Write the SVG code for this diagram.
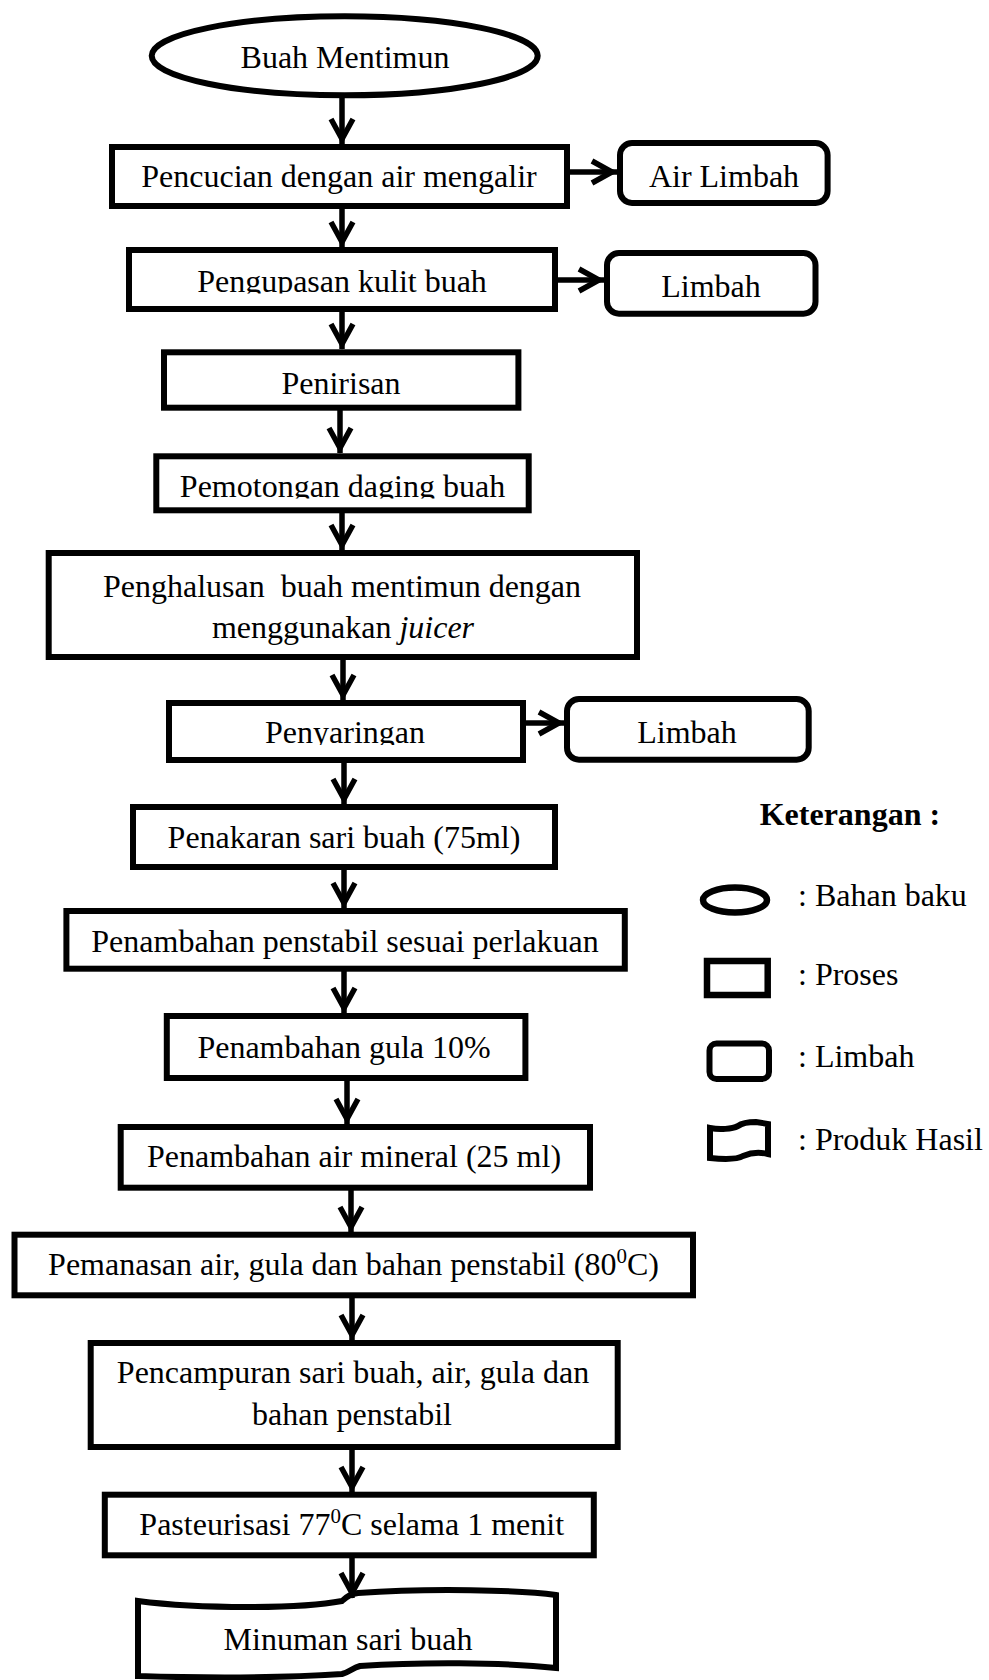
<svg xmlns="http://www.w3.org/2000/svg" width="989" height="1680" viewBox="0 0 989 1680">
<style>
.box{fill:#fff;stroke:#000;stroke-width:6}
.lb{fill:#fff;stroke:#000;stroke-width:6}
.t{font-family:"Liberation Serif","Times New Roman",serif;font-size:32px;fill:#000;text-anchor:middle}
.ls{text-anchor:start}
.b{font-weight:bold}
.c line{stroke:#000;stroke-width:5.5;fill:none}
.sup{font-size:21px}
</style>
<defs>
<marker id="arr" markerUnits="userSpaceOnUse" viewBox="-30 -16 32 32" markerWidth="32" markerHeight="32" refX="0" refY="0" orient="auto" overflow="visible">
<path d="M -25 -11 L -5 0 L -25 11" fill="none" stroke="#000" stroke-width="5.5" stroke-linejoin="miter"/>
</marker>
<clipPath id="cp1"><rect x="120" y="250" width="440" height="43.5"/></clipPath>
<clipPath id="cp2"><rect x="150" y="456" width="380" height="42.5"/></clipPath>
<clipPath id="cp3"><rect x="160" y="703" width="360" height="42"/></clipPath>
</defs>
<rect width="989" height="1680" fill="#fff"/>

<g id="n1"><ellipse class="box" cx="344.7" cy="55.8" rx="193" ry="39.5"/><text class="t" x="345" y="68">Buah Mentimun</text></g>
<g id="n2"><rect class="box" x="112" y="147" width="455" height="59"/><text class="t" x="339" y="187">Pencucian dengan air mengalir</text></g>
<g id="w1"><rect class="lb" x="620" y="143" width="207.6" height="60" rx="12"/><text class="t" x="724" y="187">Air Limbah</text></g>
<g id="n3"><rect class="box" x="129" y="250" width="426" height="59"/><text class="t" x="342" y="291.7" clip-path="url(#cp1)">Pengupasan kulit buah</text></g>
<g id="w2"><rect class="lb" x="607" y="253" width="208.5" height="60.7" rx="12"/><text class="t" x="711" y="296.7">Limbah</text></g>
<g id="n4"><rect class="box" x="164" y="352.3" width="354.4" height="55.4"/><text class="t" x="341" y="394">Penirisan</text></g>
<g id="n5"><rect class="box" x="156.3" y="456.3" width="372.4" height="54"/><text class="t" x="342.5" y="496.7" clip-path="url(#cp2)">Pemotongan daging buah</text></g>
<g id="n6"><rect class="box" x="48.7" y="553" width="588.3" height="104"/><text class="t" x="342" y="596.7" xml:space="preserve">Penghalusan  buah mentimun dengan</text><text class="t" x="343" y="638">menggunakan <tspan font-style="italic">juicer</tspan></text></g>
<g id="n7"><rect class="box" x="169" y="703" width="354" height="57"/><text class="t" x="345" y="743" clip-path="url(#cp3)">Penyaringan</text></g>
<g id="w3"><rect class="lb" x="567" y="699" width="241.7" height="60.7" rx="12"/><text class="t" x="687" y="743">Limbah</text></g>
<g id="n8"><rect class="box" x="133" y="807" width="422" height="60"/><text class="t" x="344" y="848">Penakaran sari buah (75ml)</text></g>
<g id="n9"><rect class="box" x="66.4" y="911" width="558.4" height="57.7"/><text class="t" x="345" y="951.7">Penambahan penstabil sesuai perlakuan</text></g>
<g id="n10"><rect class="box" x="166.8" y="1016" width="358.6" height="62"/><text class="t" x="344" y="1058">Penambahan gula 10%</text></g>
<g id="n11"><rect class="box" x="120.7" y="1127" width="469.3" height="60.7"/><text class="t" x="354" y="1166.7">Penambahan air mineral (25 ml)</text></g>
<g id="n12"><rect class="box" x="14.5" y="1234.7" width="678.5" height="60.6"/><text class="t" x="353.5" y="1275">Pemanasan air, gula dan bahan penstabil (80<tspan class="sup" dy="-12">0</tspan><tspan dy="12">C)</tspan></text></g>
<g id="n13"><rect class="box" x="90.7" y="1343" width="527" height="104"/><text class="t" x="353" y="1383.3">Pencampuran sari buah, air, gula dan</text><text class="t" x="352" y="1425">bahan penstabil</text></g>
<g id="n14"><rect class="box" x="104.8" y="1494.7" width="489" height="60.6"/><text class="t" x="351.7" y="1535">Pasteurisasi 77<tspan class="sup" dy="-12">0</tspan><tspan dy="12">C selama 1 menit</tspan></text></g>
<g id="n15"><path class="box" d="M138,1601 C200,1609 300,1609 342,1601 C346,1597 350,1594 358,1593 C430,1588 520,1590 556,1595 L556,1668 C500,1662 420,1662 360,1666 C352,1668 350,1672 342,1674 C280,1678 200,1678 138,1676 Z"/><text class="t" x="348" y="1650">Minuman sari buah</text></g>

<g id="connectors" class="c">
<line x1="342" y1="98" x2="342" y2="144" marker-end="url(#arr)"/>
<line x1="342" y1="209" x2="342" y2="247" marker-end="url(#arr)"/>
<line x1="342" y1="312" x2="342" y2="349" marker-end="url(#arr)"/>
<line x1="340" y1="410" x2="340" y2="453" marker-end="url(#arr)"/>
<line x1="342" y1="513" x2="342" y2="550" marker-end="url(#arr)"/>
<line x1="343" y1="660" x2="343" y2="700" marker-end="url(#arr)"/>
<line x1="344" y1="763" x2="344" y2="804" marker-end="url(#arr)"/>
<line x1="344" y1="870" x2="344" y2="908" marker-end="url(#arr)"/>
<line x1="344" y1="971" x2="344" y2="1013" marker-end="url(#arr)"/>
<line x1="347" y1="1081" x2="347" y2="1124" marker-end="url(#arr)"/>
<line x1="351" y1="1190" x2="351" y2="1232" marker-end="url(#arr)"/>
<line x1="352" y1="1298" x2="352" y2="1340" marker-end="url(#arr)"/>
<line x1="352" y1="1450" x2="352" y2="1492" marker-end="url(#arr)"/>
<line x1="352" y1="1558" x2="352" y2="1598" marker-end="url(#arr)"/>
<line x1="570" y1="172" x2="617" y2="172" marker-end="url(#arr)"/>
<line x1="558" y1="280" x2="604" y2="280" marker-end="url(#arr)"/>
<line x1="526" y1="723" x2="564" y2="723" marker-end="url(#arr)"/>
</g>

<g id="legend">
<text class="t ls b" x="759.7" y="825">Keterangan :</text>
<ellipse cx="735" cy="900" rx="32" ry="12.5" fill="none" stroke="#000" stroke-width="6.5"/>
<text class="t ls" x="798" y="906">: Bahan baku</text>
<rect x="707" y="961" width="60.7" height="34" fill="none" stroke="#000" stroke-width="6.5"/>
<text class="t ls" x="798" y="985">: Proses</text>
<rect x="709.5" y="1043.5" width="59.5" height="35.5" rx="7" fill="none" stroke="#000" stroke-width="6"/>
<text class="t ls" x="798" y="1067">: Limbah</text>
<path d="M710,1128 C720,1130 732,1129 738,1126 C742,1123 748,1122 756,1122 L768,1124 L768,1154 C760,1152 750,1153 743,1156 C738,1159 730,1160 710,1158 Z" fill="none" stroke="#000" stroke-width="6"/>
<text class="t ls" x="798" y="1150">: Produk Hasil</text>
</g>
</svg>
